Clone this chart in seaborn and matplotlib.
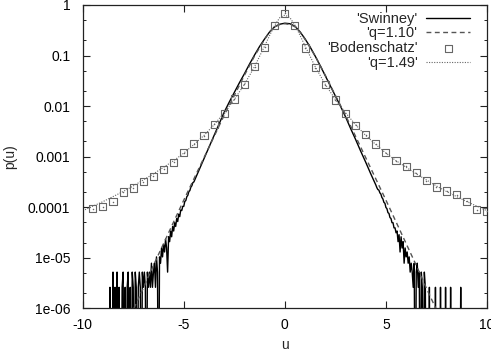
import numpy as np
import pandas as pd
import matplotlib
matplotlib.use("Agg")
import matplotlib.pyplot as plt
import seaborn as sns
from matplotlib.ticker import FixedLocator, FixedFormatter, LogLocator, NullLocator, NullFormatter

# ---------------- data ----------------
# Swinney: central part, log10 p(u) on u = -4.5 .. 4.5 (step 0.25)
swinney_core_u = np.linspace(-4.5, 4.5, 37)
swinney_core_log = [-3.50, -3.27, -3.04, -2.81, -2.58, -2.35, -2.12, -1.92, -1.73,
                    -1.54, -1.36, -1.17, -0.99, -0.82, -0.67, -0.53, -0.43, -0.38,
                    -0.36,
                    -0.37, -0.42, -0.53, -0.67, -0.83, -1.01, -1.20, -1.40, -1.60,
                    -1.80, -2.00, -2.21, -2.44, -2.66, -2.89, -3.11, -3.34, -3.56]

# Swinney tails: histogram counts (1 count = 2.6e-6) on a 0.05 grid
count_unit = 2.6e-6
swinney_left_u = np.linspace(-9.0, -4.55, 90)
swinney_left_counts = [0, 0, 0, 0, 0, 0, 0,
                       1, 0, 0, 2, 0, 1, 0, 2, 0, 1,
                       0, 0, 1, 2, 0, 1, 0, 1, 2, 0,
                       1, 0, 2, 1, 0, 2, 1, 0, 1, 2,
                       1, 0, 2, 1, 2, 1, 0, 2, 1, 2,
                       1, 3, 1, 2, 3, 1, 4, 2, 0, 4,
                       3, 6, 4, 7, 5, 9, 6, 2, 10, 8,
                       13, 10, 16, 13, 19, 16, 23, 20, 28, 25,
                       34, 33, 40, 40, 50, 52, 62, 66, 78, 82,
                       96, 102, 118]
swinney_right_u = np.linspace(4.55, 9.0, 90)
swinney_right_counts = [94, 86, 84, 74, 70, 60, 56, 48, 46, 38,
                        36, 30, 29, 24, 23, 19, 19, 15, 15, 12,
                        13, 8, 11, 5, 10, 6, 8, 3, 6, 4,
                        5, 3, 4, 2, 3, 2, 1, 3, 0, 2,
                        3, 1, 2, 0, 2, 1, 0, 2, 1, 0,
                        0, 0, 1, 0, 0, 0, 0, 0, 1, 0,
                        0, 0, 0, 1, 0, 0, 0, 0, 1, 0,
                        0, 0, 0, 1, 0, 0, 0, 0, 0, 0,
                        0, 0, 0, 1, 0, 0, 0, 0, 0, 0]

# q = 1.10 fit (log10 p)
q110_u = [-8.0, -7.5, -7.0, -6.5, -6.0, -5.5, -5.0, -4.5, -4.0, -3.5, -3.0, -2.5, -2.0,
          -1.5, -1.0, -0.75, -0.5, -0.25, 0.0, 0.25, 0.5, 0.75, 1.0, 1.5, 2.0, 2.5,
          3.0, 3.5, 4.0, 4.5, 5.0, 5.5, 6.0, 6.5, 7.0, 7.5, 8.0]
q110_log = [-6.45, -6.03, -5.60, -5.15, -4.72, -4.29, -3.86, -3.44, -3.02, -2.60, -2.18,
            -1.79, -1.39, -1.01, -0.68, -0.53, -0.43, -0.385, -0.37, -0.385, -0.43,
            -0.53, -0.68, -1.01, -1.39, -1.79, -2.18, -2.60, -3.02, -3.44, -3.86,
            -4.29, -4.72, -5.15, -5.60, -6.03, -6.45]

# Bodenschatz points (log10 p)
bod_u = [-9.5, -9.0, -8.5, -8.0, -7.5, -7.0, -6.5, -6.0, -5.5, -5.0, -4.5, -4.0, -3.5,
         -3.0, -2.5, -2.0, -1.5, -1.0, -0.5, 0.0, 0.5, 1.0, 1.5, 2.0, 2.5, 3.0, 3.5,
         4.0, 4.5, 5.0, 5.5, 6.0, 6.5, 7.0, 7.5, 8.0, 8.5, 9.0, 9.5, 10.0]
bod_log = [-4.03, -3.99, -3.89, -3.70, -3.62, -3.50, -3.39, -3.25, -3.11, -2.92, -2.74,
           -2.59, -2.36, -2.14, -1.86, -1.57, -1.22, -0.84, -0.41, -0.165, -0.41,
           -0.85, -1.24, -1.58, -1.88, -2.14, -2.38, -2.57, -2.75, -2.92, -3.08,
           -3.19, -3.32, -3.48, -3.60, -3.68, -3.75, -3.88, -4.05, -4.08]

# q = 1.49 fit (log10 p)
q149_u = [-10.0, -9.5, -9.0, -8.5, -8.0, -7.5, -7.0, -6.5, -6.0, -5.5, -5.0, -4.5, -4.0,
          -3.5, -3.0, -2.5, -2.0, -1.5, -1.0, -0.75, -0.5, -0.25, 0.0, 0.25, 0.5, 0.75,
          1.0, 1.5, 2.0, 2.5, 3.0, 3.5, 4.0, 4.5, 5.0, 5.5, 6.0, 6.5, 7.0, 7.5, 8.0,
          8.5, 9.0, 9.5, 10.0]
q149_log = [-4.07, -3.98, -3.89, -3.79, -3.69, -3.58, -3.46, -3.34, -3.21, -3.08, -2.93,
            -2.76, -2.58, -2.37, -2.13, -1.87, -1.57, -1.22, -0.81, -0.60, -0.40, -0.25,
            -0.20, -0.25, -0.40, -0.60, -0.81, -1.22, -1.57, -1.87, -2.13, -2.37, -2.58,
            -2.76, -2.93, -3.08, -3.21, -3.34, -3.46, -3.58, -3.69, -3.79, -3.89, -3.98,
            -4.07]

x_ticks = [-10, -5, 0, 5, 10]
x_tick_labels = ["-10", "-5", "0", "5", "10"]
y_ticks = [1e-6, 1e-5, 1e-4, 1e-3, 1e-2, 1e-1, 1]
y_tick_labels = ["1e-06", "1e-05", "0.0001", "0.001", "0.01", "0.1", "1"]

# ---------------- build tables ----------------
def counts_to_p(c):
    c = np.asarray(c, dtype=float)
    return np.where(c > 0, c * count_unit, 1e-9)

swinney = pd.DataFrame({
    "u": np.concatenate([swinney_left_u, swinney_core_u, swinney_right_u]),
    "p": np.concatenate([counts_to_p(swinney_left_counts),
                         10.0 ** np.array(swinney_core_log),
                         counts_to_p(swinney_right_counts)]),
}).sort_values("u")
q110 = pd.DataFrame({"u": q110_u, "p": 10.0 ** np.array(q110_log)})
bod = pd.DataFrame({"u": bod_u, "p": 10.0 ** np.array(bod_log)})
q149 = pd.DataFrame({"u": q149_u, "p": 10.0 ** np.array(q149_log)})

# ---------------- style ----------------
sns.set_style("ticks")
plt.rcParams["font.family"] = ["Liberation Sans", "DejaVu Sans"]
plt.rcParams["font.size"] = 10

fig = plt.figure(figsize=(4.91, 3.51), dpi=100)
ax = fig.add_axes([82.7 / 491, 1 - 308.3 / 351, (487 - 82.7) / 491, (308.3 - 5) / 351])

sns.lineplot(data=swinney, x="u", y="p", ax=ax, color="black", lw=1.0,
             estimator=None, sort=False, label="'Swinney'")
sns.lineplot(data=q110, x="u", y="p", ax=ax, color="#555555", lw=1.0,
             linestyle=(0, (3.5, 2.5)), estimator=None, label="'q=1.10'")
sns.scatterplot(data=bod, x="u", y="p", ax=ax, marker="s", s=26, facecolor="none",
                edgecolor="#666666", linewidth=0.8, label="'Bodenschatz'", zorder=3)
sns.scatterplot(data=bod, x="u", y="p", ax=ax, marker="o", s=1.2, color="#666666",
                linewidth=0, label="_nolegend_", zorder=3)
sns.lineplot(data=q149, x="u", y="p", ax=ax, color="#666666", lw=0.8,
             linestyle=(0, (1, 1.3)), estimator=None, label="'q=1.49'")

ax.set_yscale("log")
ax.set_xlim(-10, 10)
ax.set_ylim(1e-6, 1)

ax.xaxis.set_major_locator(FixedLocator(x_ticks))
ax.xaxis.set_major_formatter(FixedFormatter(x_tick_labels))
ax.xaxis.set_minor_locator(NullLocator())
ax.yaxis.set_major_locator(FixedLocator(y_ticks))
ax.yaxis.set_major_formatter(FixedFormatter(y_tick_labels))
ax.yaxis.set_minor_locator(LogLocator(base=10, subs=(2.0, 5.0), numticks=20))
ax.yaxis.set_minor_formatter(NullFormatter())

ax.tick_params(which="both", direction="in", top=True, right=True,
               colors="#222222", labelcolor="black", labelsize=10)
ax.tick_params(which="major", length=5, width=0.8)
ax.tick_params(axis="y", which="major", pad=9)
ax.tick_params(axis="x", which="major", pad=7)
ax.tick_params(which="minor", length=2.5, width=0.7)
for s in ax.spines.values():
    s.set_visible(True)
    s.set_linewidth(0.9)
    s.set_color("#222222")

ax.set_xlabel("u", fontsize=10, labelpad=4.5)
ax.set_ylabel("p(u)", fontsize=10, labelpad=8)

handles, labels = ax.get_legend_handles_labels()
leg = ax.legend(handles, labels, loc="upper right", bbox_to_anchor=(0.958, 0.978),
                frameon=False, markerfirst=False, handlelength=3.0, handletextpad=0.6,
                labelspacing=0.05, borderpad=0.0, borderaxespad=0.0, fontsize=10.5)

fig.savefig("out.png", dpi=100)
